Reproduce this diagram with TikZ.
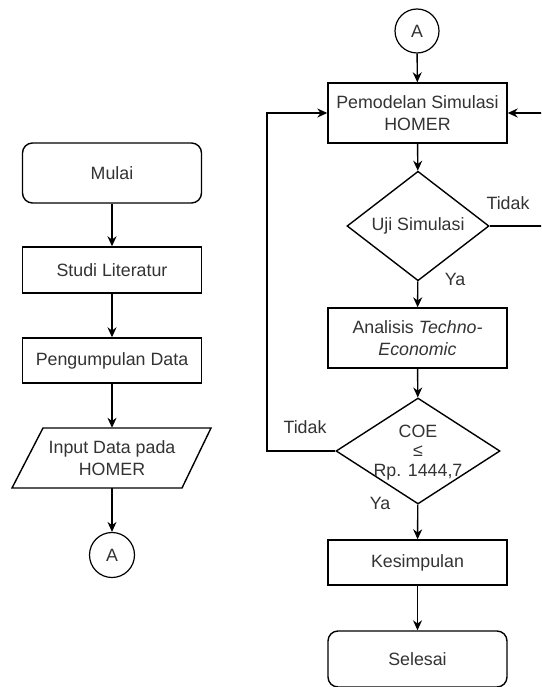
\documentclass[tikz,border=0pt]{standalone}
\usepackage{fontspec}
\setmainfont{Liberation Sans}
\usetikzlibrary{arrows.meta,shapes.geometric}
\definecolor{txt}{HTML}{333333}
\tikzset{
  every node/.style={font=\fontsize{17.8}{21.5}\selectfont, text=txt},
  box/.style={draw, line width=1.4pt, minimum width=179pt, inner sep=0pt, align=center},
  term/.style={box, rounded corners=10pt},
  conn/.style={draw, circle, line width=1.2pt, minimum size=45pt, inner sep=0pt},
  dec/.style={draw, diamond, line width=1.4pt, inner sep=0pt, align=center},
  arr/.style={line width=1.4pt, -{Stealth[length=10pt,width=9pt]}},
  ln/.style={line width=1.4pt},
  lbl/.style={inner sep=0pt}
}
\begin{document}
\begin{tikzpicture}[x=1pt,y=-1pt]
\clip (0,0) rectangle (541,687);
\fill[white] (0,0) rectangle (541,687);
% left column
\node[term, minimum height=60pt] (mulai) at (112,173) {Mulai};
\node[box, minimum height=46pt] (studi) at (112,270) {Studi Literatur};
\node[box, minimum height=45pt] (kumpul) at (112,360.5) {Pengumpulan Data};
\draw[line width=1.4pt] (43,428) -- (211,428) -- (182,488) -- (12,488) -- cycle;
\node[minimum width=140pt, minimum height=60pt, inner sep=0pt, align=center] (input) at (112,458) {Input Data pada\\HOMER};
\node[conn] (a1) at (112,555) {A};
\draw[arr] (mulai) -- (studi);
\draw[arr] (studi) -- (kumpul);
\draw[arr] (kumpul) -- (input);
\draw[arr] (input) -- (a1);
% right column
\node[conn, minimum size=44pt] (a2) at (417,31) {A};
\node[box, minimum height=60pt] (pem) at (417.5,113) {Pemodelan Simulasi\\HOMER};
\node[dec, minimum width=142pt, minimum height=103pt] (uji) at (418,226) {Uji Simulasi};
\node[box, minimum height=60pt] (anal) at (417.5,338) {Analisis \textit{Techno-}\\\textit{Economic}};
\node[dec, minimum width=164pt, minimum height=106pt] (coe) at (418,451) {};
\node[lbl] (coe1) at (418,431) {COE};
\node[lbl] (coe2) at (418,451) {≤};
\node[lbl] (coe3) at (418,472) {Rp. 1444,7};
\node[box, minimum height=45pt] (kes) at (417.5,562.5) {Kesimpulan};
\node[term, minimum height=56pt] (sel) at (417.5,659) {Selesai};
\coordinate (rx) at (545,0);
\coordinate (lx) at (267,0);
\draw[arr] (a2) -- (pem);
\draw[arr] (pem) -- (uji);
\draw[arr] (uji) -- (anal);
\draw[arr] (anal) -- (coe);
\draw[arr] (coe) -- (kes);
\draw[arr] (kes) -- (sel);
\draw[arr] (uji.east) -- (uji.east -| rx) |- (pem.east);
\draw[arr] (coe.west) -- (coe.west -| lx) |- (pem.west);
% labels
\node[lbl] (t1) at (508,203) {Tidak};
\node[lbl] (y1) at (455,279) {Ya};
\node[lbl] (t2) at (305,427) {Tidak};
\node[lbl] (y2) at (380,503) {Ya};
\end{tikzpicture}
\end{document}
